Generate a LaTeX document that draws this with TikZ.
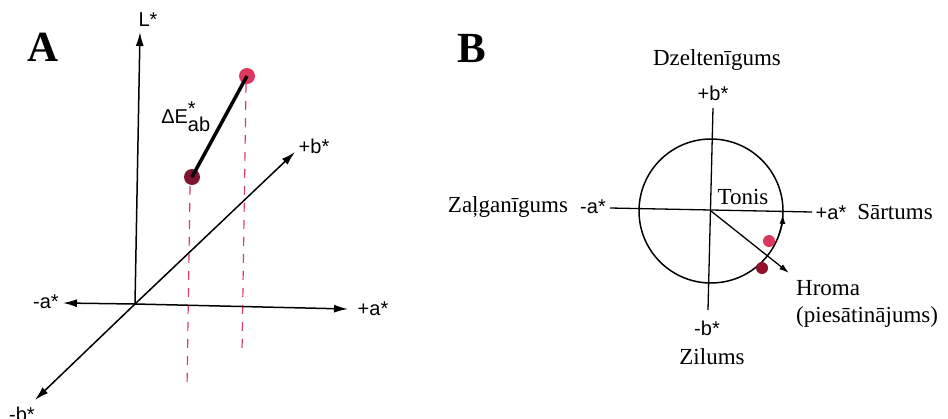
\documentclass[tikz,border=0pt]{standalone}
\usepackage{fontspec}
\setmainfont{Liberation Serif}
\setsansfont{Liberation Sans}
\usetikzlibrary{arrows.meta}
\definecolor{dashpink}{RGB}{215,60,100}
\definecolor{dotdark}{RGB}{125,20,50}
\definecolor{dotpink}{RGB}{222,55,95}
\begin{document}
\begin{tikzpicture}[x=1pt,y=-1pt,
  axis/.style={line width=1.5pt,-{Latex[length=14pt,width=8pt]}},
  baxis/.style={line width=1.3pt},
  barrow/.style={line width=1.3pt,-{Latex[length=10pt,width=6pt]}},
  lab/.style={font=\sffamily\fontsize{20}{20}\selectfont, inner sep=0pt},
  slab/.style={font=\fontsize{23}{23}\selectfont, inner sep=0pt},
  big/.style={font=\bfseries\fontsize{43}{43}\selectfont, inner sep=0pt},
  dot/.style={circle, inner sep=0pt, minimum size=16pt},
  bdot/.style={circle, inner sep=0pt, minimum size=12pt},
  proj/.style={dashpink, line width=1.2pt, dash pattern=on 9pt off 8pt}]
\useasboundingbox (0,0) rectangle (948,418);
\fill[white] (0,0) rectangle (948,418);
% ---------- Panel A ----------
\node[big] (A) at (43,47) {A};
\coordinate (O) at (135,304);
\coordinate (Ltop) at (140,32);
\coordinate (am) at (63,303);
\coordinate (ap) at (348,309);
\coordinate (bp) at (295,152);
\coordinate (bm) at (35,400);
\draw[proj] (190,186) coordinate (p1s) -- (187,388) coordinate (p1e);
\draw[proj] (246,84) coordinate (p2s) -- (242,353) coordinate (p2e);
\draw[axis] (O) -- (Ltop);
\draw[axis] (O) -- (am);
\draw[axis] (O) -- (ap);
\draw[axis] (O) -- (bp);
\draw[axis] (O) -- (bm);
\node[lab] (Llab) at (148,20) {L*};
\node[lab] (amlab) at (46,302) {-a*};
\node[lab] (aplab) at (373,309) {+a*};
\node[lab] (bplab) at (314,146) {+b*};
\node[lab] (bmlab) at (22,414) {-b*};
\node[dot, fill=dotdark] (d1) at (192,177) {};
\node[dot, fill=dotpink] (d2) at (247,76) {};
\draw[line width=3.5pt] (d1.center) -- (d2.center);
\node[lab] (dE) at (186,117) {ΔE$^{\textsf{*}}_{\textsf{ab}}$};
% ---------- Panel B ----------
\node[big] (B) at (472,48) {B};
\coordinate (C) at (711,211);
\draw[line width=1.5pt] (C) circle (72);
\coordinate (vt) at (713,108);
\coordinate (vb) at (708,310);
\coordinate (hl) at (610,208);
\coordinate (hr) at (812,212);
\draw[baxis] (vt) -- (vb);
\draw[baxis] (hl) -- (hr);
\node[bdot, fill=dotpink] (e1) at (769,241) {};
\node[bdot, fill=dotdark!85!red] (e2) at (762,268) {};
\coordinate (chr) at (789,273);
\draw[barrow] (C) -- (chr);
\draw[line width=1.3pt,-{Latex[length=9pt,width=6pt]}] (C) ++(20:72) arc (20:3:72);
\node[slab] (dz) at (717,60) {Dzeltenīgums};
\node[lab] (bpl) at (713,93) {+b*};
\node[lab] (bml) at (707,328) {-b*};
\node[slab] (zi) at (712,357) {Zilums};
\node[lab] (aml) at (593,207) {-a*};
\node[slab] (za) at (508,207) {Zaļganīgums};
\node[lab] (apl) at (831,213) {+a*};
\node[slab] (sa) at (895,212) {Sārtums};
\node[slab] (to) at (743,197) {Tonis};
\node[slab, anchor=west] (hr1) at (796,288) {Hroma};
\node[slab, anchor=west] (hr2) at (796,317) {(piesātinājums)};
\end{tikzpicture}
\end{document}
